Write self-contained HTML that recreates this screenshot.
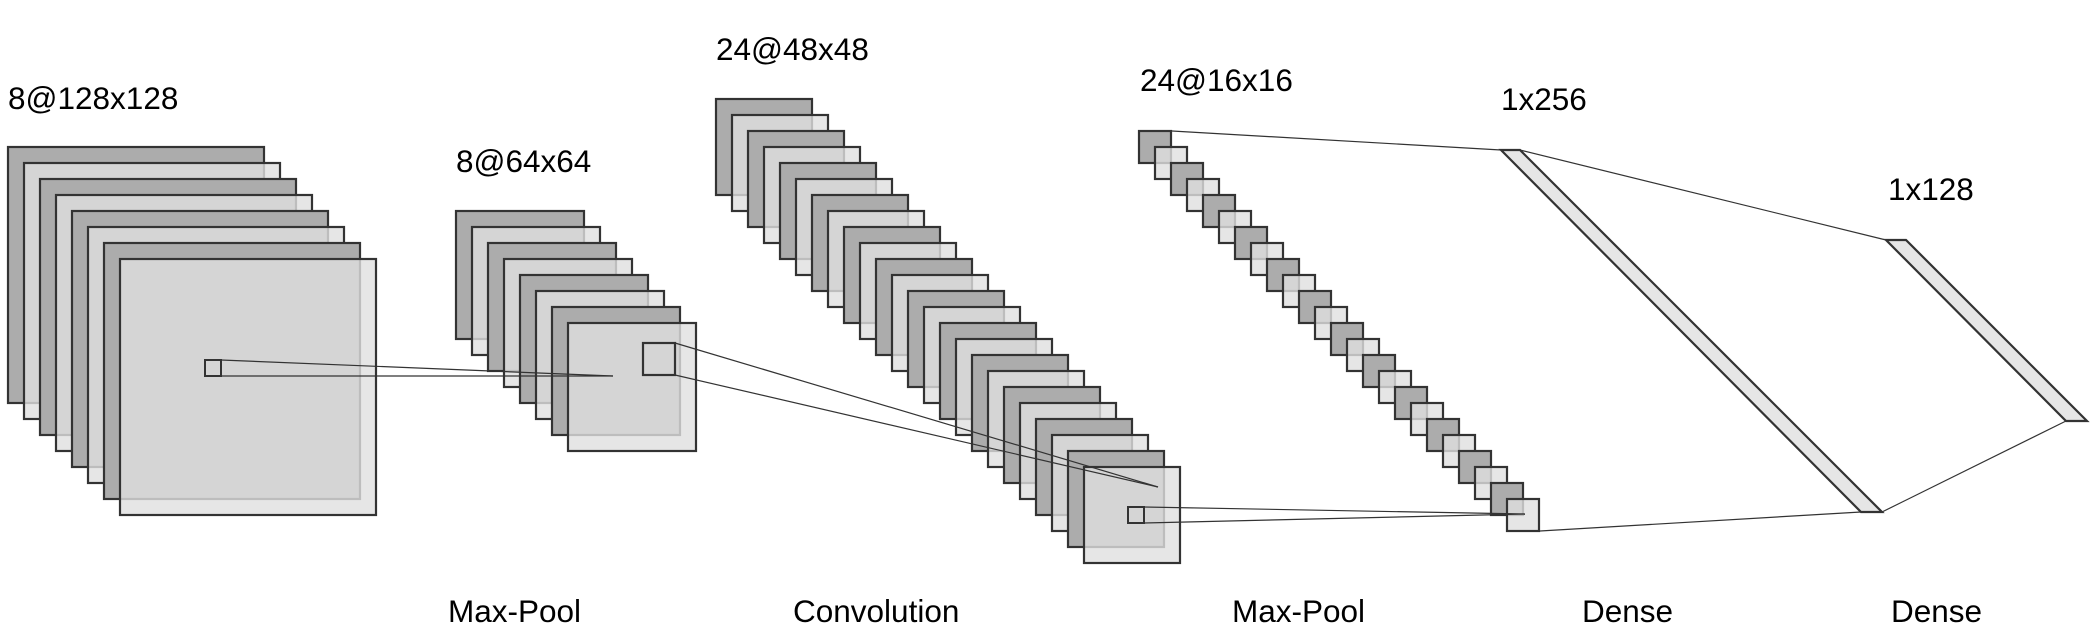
<!DOCTYPE html>
<html><head><meta charset="utf-8"><style>
html,body{margin:0;padding:0;background:#fff;}
svg{display:block;}
text{font-family:"Liberation Sans",Arial,sans-serif;font-size:31.5px;fill:#000;}
.d{fill:#acacac;}
.l{fill:#e0e0e0;fill-opacity:0.8;}
</style></head><body>
<svg width="2092" height="644" viewBox="0 0 2092 644" xmlns="http://www.w3.org/2000/svg">
<g stroke="#333" stroke-width="2.2">
<rect class="d" x="8" y="147" width="256" height="256"/>
<rect class="l" x="24" y="163" width="256" height="256"/>
<rect class="d" x="40" y="179" width="256" height="256"/>
<rect class="l" x="56" y="195" width="256" height="256"/>
<rect class="d" x="72" y="211" width="256" height="256"/>
<rect class="l" x="88" y="227" width="256" height="256"/>
<rect class="d" x="104" y="243" width="256" height="256"/>
<rect class="l" x="120" y="259" width="256" height="256"/>

<rect class="d" x="456" y="211" width="128" height="128"/>
<rect class="l" x="472" y="227" width="128" height="128"/>
<rect class="d" x="488" y="243" width="128" height="128"/>
<rect class="l" x="504" y="259" width="128" height="128"/>
<rect class="d" x="520" y="275" width="128" height="128"/>
<rect class="l" x="536" y="291" width="128" height="128"/>
<rect class="d" x="552" y="307" width="128" height="128"/>
<rect class="l" x="568" y="323" width="128" height="128"/>

<rect class="d" x="716" y="99" width="96" height="96"/>
<rect class="l" x="732" y="115" width="96" height="96"/>
<rect class="d" x="748" y="131" width="96" height="96"/>
<rect class="l" x="764" y="147" width="96" height="96"/>
<rect class="d" x="780" y="163" width="96" height="96"/>
<rect class="l" x="796" y="179" width="96" height="96"/>
<rect class="d" x="812" y="195" width="96" height="96"/>
<rect class="l" x="828" y="211" width="96" height="96"/>
<rect class="d" x="844" y="227" width="96" height="96"/>
<rect class="l" x="860" y="243" width="96" height="96"/>
<rect class="d" x="876" y="259" width="96" height="96"/>
<rect class="l" x="892" y="275" width="96" height="96"/>
<rect class="d" x="908" y="291" width="96" height="96"/>
<rect class="l" x="924" y="307" width="96" height="96"/>
<rect class="d" x="940" y="323" width="96" height="96"/>
<rect class="l" x="956" y="339" width="96" height="96"/>
<rect class="d" x="972" y="355" width="96" height="96"/>
<rect class="l" x="988" y="371" width="96" height="96"/>
<rect class="d" x="1004" y="387" width="96" height="96"/>
<rect class="l" x="1020" y="403" width="96" height="96"/>
<rect class="d" x="1036" y="419" width="96" height="96"/>
<rect class="l" x="1052" y="435" width="96" height="96"/>
<rect class="d" x="1068" y="451" width="96" height="96"/>
<rect class="l" x="1084" y="467" width="96" height="96"/>

<rect class="d" x="1139" y="131" width="32" height="32"/>
<rect class="l" x="1155" y="147" width="32" height="32"/>
<rect class="d" x="1171" y="163" width="32" height="32"/>
<rect class="l" x="1187" y="179" width="32" height="32"/>
<rect class="d" x="1203" y="195" width="32" height="32"/>
<rect class="l" x="1219" y="211" width="32" height="32"/>
<rect class="d" x="1235" y="227" width="32" height="32"/>
<rect class="l" x="1251" y="243" width="32" height="32"/>
<rect class="d" x="1267" y="259" width="32" height="32"/>
<rect class="l" x="1283" y="275" width="32" height="32"/>
<rect class="d" x="1299" y="291" width="32" height="32"/>
<rect class="l" x="1315" y="307" width="32" height="32"/>
<rect class="d" x="1331" y="323" width="32" height="32"/>
<rect class="l" x="1347" y="339" width="32" height="32"/>
<rect class="d" x="1363" y="355" width="32" height="32"/>
<rect class="l" x="1379" y="371" width="32" height="32"/>
<rect class="d" x="1395" y="387" width="32" height="32"/>
<rect class="l" x="1411" y="403" width="32" height="32"/>
<rect class="d" x="1427" y="419" width="32" height="32"/>
<rect class="l" x="1443" y="435" width="32" height="32"/>
<rect class="d" x="1459" y="451" width="32" height="32"/>
<rect class="l" x="1475" y="467" width="32" height="32"/>
<rect class="d" x="1491" y="483" width="32" height="32"/>
<rect class="l" x="1507" y="499" width="32" height="32"/>
</g>
<g stroke="#333" fill="none">
<rect x="205" y="360" width="16" height="16" stroke-width="2"/>
<line x1="221" y1="360" x2="613" y2="376" stroke-width="1.2"/>
<line x1="221" y1="376" x2="613" y2="376" stroke-width="1.2"/>
<rect x="643" y="343" width="32" height="32" stroke-width="2.2"/>
<line x1="675" y1="343" x2="1158" y2="487" stroke-width="1.2"/>
<line x1="675" y1="375" x2="1158" y2="487" stroke-width="1.2"/>
<rect x="1128" y="507" width="16" height="16" stroke-width="2"/>
<line x1="1144" y1="507" x2="1525" y2="514" stroke-width="1.2"/>
<line x1="1144" y1="523" x2="1525" y2="514" stroke-width="1.2"/>
<line x1="1172" y1="131" x2="1501" y2="150" stroke-width="1.2"/>
<line x1="1540" y1="531" x2="1861" y2="512" stroke-width="1.2"/>
<line x1="1520" y1="150" x2="1886" y2="240" stroke-width="1.2"/>
<line x1="1882" y1="512" x2="2066" y2="421" stroke-width="1.2"/>
</g>
<polygon points="1501,150 1520,150 1882,512 1861,512" fill="#e6e6e6" stroke="#333" stroke-width="2.2"/>
<polygon points="1886,240 1906,240 2087,421 2066,421" fill="#e6e6e6" stroke="#333" stroke-width="2.2"/>
<text x="8" y="109">8@128x128</text>
<text x="456" y="172">8@64x64</text>
<text x="716" y="60">24@48x48</text>
<text x="1140" y="91">24@16x16</text>
<text x="1501" y="110">1x256</text>
<text x="1888" y="200">1x128</text>
<text x="448" y="622">Max-Pool</text>
<text x="793" y="622">Convolution</text>
<text x="1232" y="622">Max-Pool</text>
<text x="1582" y="622">Dense</text>
<text x="1891" y="622">Dense</text>
</svg>
</body></html>
